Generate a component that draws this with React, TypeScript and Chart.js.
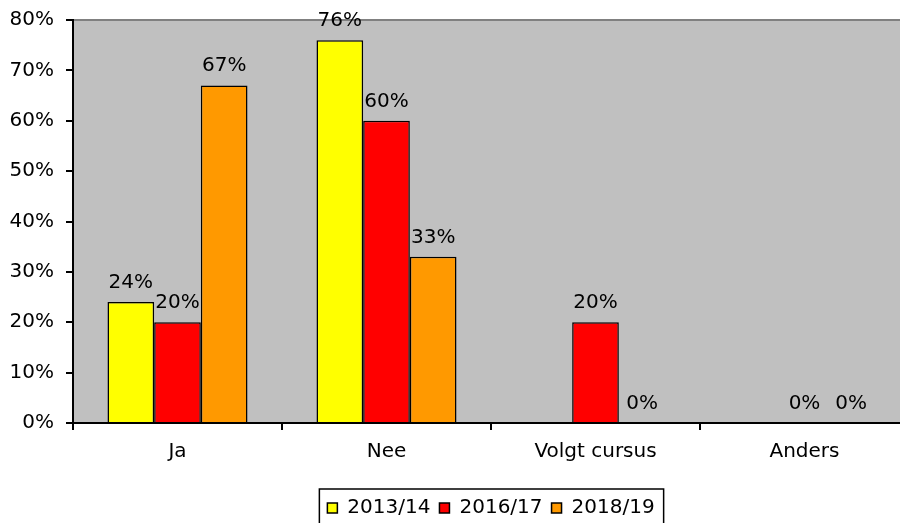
import React, { useEffect, useRef } from "react";
import { Chart, registerables } from "chart.js";

Chart.register(...registerables);

const categories = ["Ja", "Nee", "Volgt cursus", "Anders"];
const seriesNames = ["2013/14", "2016/17", "2018/19"];
const values2013 = [24, 76, null, null];
const values2016 = [20, 60, 20, 0];
const values2018 = [67, 33, 0, 0];
const seriesColors = ["#FFFF00", "#FF0000", "#FF9900"];
const yTicks = [0, 10, 20, 30, 40, 50, 60, 70, 80];

const FONT = "'DejaVu Sans', Verdana, sans-serif";
const FS = 20;

const bgPlugin = {
  id: "bgPlugin",
  beforeDraw(chart: any) {
    const { ctx, chartArea } = chart;
    ctx.save();
    ctx.fillStyle = "#C0C0C0";
    ctx.fillRect(chartArea.left, chartArea.top, chartArea.right - chartArea.left, chartArea.bottom - chartArea.top);
    ctx.strokeStyle = "#808080";
    ctx.lineWidth = 2;
    ctx.beginPath();
    ctx.moveTo(chartArea.left, chartArea.top);
    ctx.lineTo(chartArea.right, chartArea.top);
    ctx.stroke();
    ctx.restore();
  },
};

const labelPlugin = {
  id: "labelPlugin",
  afterDatasetsDraw(chart: any) {
    const { ctx } = chart;
    ctx.save();
    ctx.font = `${FS}px ${FONT}`;
    ctx.fillStyle = "#000";
    ctx.textAlign = "center";
    ctx.textBaseline = "alphabetic";
    chart.data.datasets.forEach((ds: any, di: number) => {
      const meta = chart.getDatasetMeta(di);
      meta.data.forEach((el: any, i: number) => {
        const v = ds.data[i];
        if (v === null || v === undefined) return;
        ctx.fillText(`${Math.round(v)}%`, el.x, el.y - 14);
      });
    });
    ctx.restore();
  },
};

const legendBoxPlugin = {
  id: "legendBoxPlugin",
  afterDraw(chart: any) {
    const lg = chart.legend;
    if (!lg || !lg.legendHitBoxes || !lg.legendHitBoxes.length) return;
    const hb = lg.legendHitBoxes;
    const first = hb[0];
    const last = hb[hb.length - 1];
    const { ctx } = chart;
    ctx.save();
    ctx.strokeStyle = "#000";
    ctx.lineWidth = 1.5;
    const left = first.left - 8;
    const right = last.left + last.width + 9;
    const top = first.top - 9;
    ctx.strokeRect(left, top, right - left, chart.height - top + 10);
    ctx.restore();
  },
};

export default function App() {
  const ref = useRef<HTMLCanvasElement | null>(null);
  useEffect(() => {
    if (!ref.current) return;
    const datasets = [values2013, values2016, values2018].map((d, i) => ({
      label: seriesNames[i],
      data: d,
      backgroundColor: seriesColors[i],
      borderColor: "#000",
      borderWidth: 1.5,
      categoryPercentage: 0.67,
      barPercentage: 1,
    }));
    const chart = new Chart(ref.current, {
      type: "bar",
      data: { labels: categories, datasets },
      plugins: [bgPlugin, labelPlugin, legendBoxPlugin],
      options: {
        animation: false,
        responsive: false,
        maintainAspectRatio: false,
        layout: { padding: { top: 20, right: 0, left: 0, bottom: -5 } },
        plugins: {
          tooltip: { enabled: false },
          legend: {
            position: "bottom",
            fullSize: false,
            labels: {
              font: { family: FONT, size: FS },
              color: "#000",
              boxWidth: 10,
              boxHeight: 10,
              padding: 9,
            },
          },
        },
        scales: {
          x: {
            afterFit: (s: any) => {
              s.height = 66;
              s.paddingLeft = 0;
              s.paddingRight = 0;
            },
            grid: {
              offset: true,
              drawOnChartArea: false,
              drawTicks: true,
              tickLength: 7,
              color: "#000",
              lineWidth: 2,
            },
            border: { display: true, color: "#000", width: 2 },
            ticks: {
              font: { family: FONT, size: FS },
              color: "#000",
              padding: 10,
            },
          },
          y: {
            min: 0,
            max: 80,
            afterFit: (s: any) => {
              s.width = 73;
              s.paddingTop = 0;
              s.paddingBottom = 0;
            },
            afterBuildTicks: (s: any) => {
              s.ticks = yTicks.map((v) => ({ value: v }));
            },
            grid: {
              drawOnChartArea: false,
              drawTicks: true,
              tickLength: 7,
              color: "#000",
              lineWidth: 2,
            },
            border: { display: true, color: "#000", width: 2 },
            ticks: {
              font: { family: FONT, size: FS },
              color: "#000",
              padding: 12,
              callback: (v: any) => `${v}%`,
            },
          },
        },
      },
    });
    return () => chart.destroy();
  }, []);
  return (
    <div style={{ position: "fixed", left: 0, top: 0, width: 900, height: 523, overflow: "hidden", background: "#fff" }}>
      <canvas ref={ref} width={909} height={523} style={{ display: "block" }} />
    </div>
  );
}
